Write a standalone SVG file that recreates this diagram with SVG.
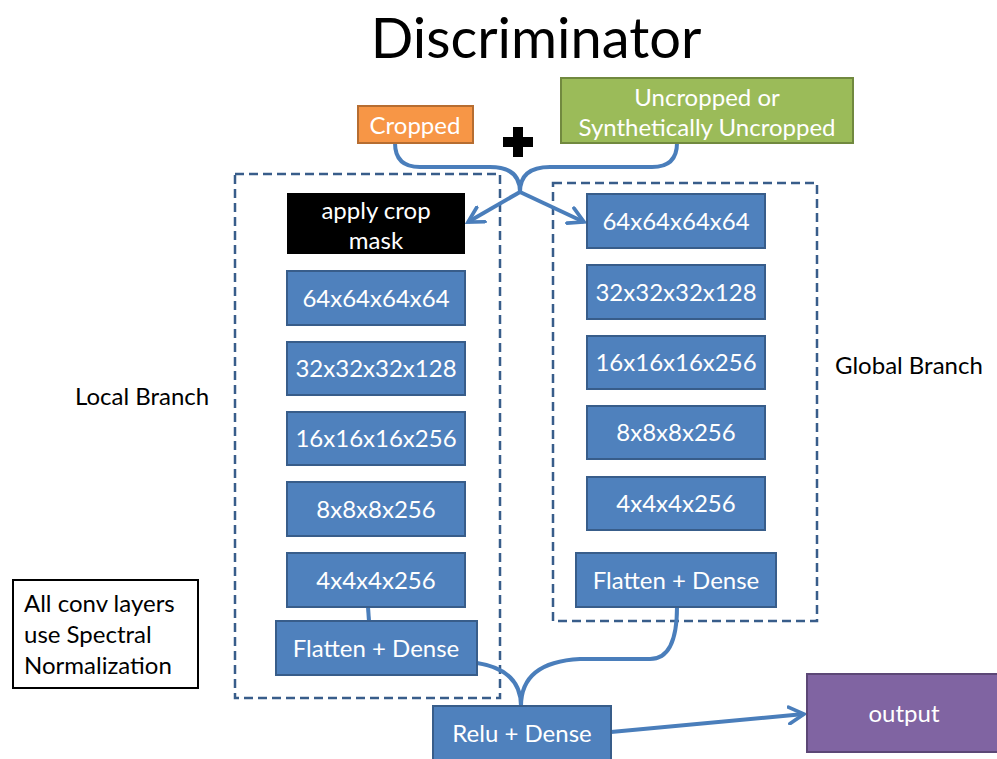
<svg xmlns="http://www.w3.org/2000/svg" width="997" height="759" viewBox="0 0 997 759">
<style>
text{font-family:Lato,"Open Sans","Liberation Sans",sans-serif;dominant-baseline:central;}
.t{font-size:24px;fill:#fff;text-anchor:middle;}
.k{font-size:24px;fill:#000;}
.blue{fill:#4F81BD;stroke:#385D8A;stroke-width:2;}
.dash{fill:none;stroke:#385D8A;stroke-width:2.5;stroke-dasharray:9,5;}
.c{fill:none;stroke:#4A7EBB;stroke-width:4;}
</style>
<defs>
<marker id="ah" viewBox="0 0 12 12" refX="10" refY="6" markerWidth="5" markerHeight="5" orient="auto" markerUnits="strokeWidth">
<path d="M1,1 L10,6 L1,11" fill="none" stroke="#4A7EBB" stroke-width="2.2" stroke-linecap="round"/>
</marker>
</defs>
<rect width="997" height="759" fill="#fff"/>
<text x="536" y="58" style="font-size:56px;text-anchor:middle;fill:#000;dominant-baseline:alphabetic">Discriminator</text>
<g id="frames">
<rect class="dash" x="235" y="174" width="265" height="524"/>
<rect class="dash" x="553" y="183" width="264" height="438"/>
</g>
<g id="connectors">
<path class="c" d="M395,143 Q395,167 420,167 L490,167 Q520,167 520,192"/>
<path class="c" d="M677,143 Q677,167 652,167 L550,167 Q520,167 520,192"/>
<path class="c" d="M520,192 L468,222" marker-end="url(#ah)"/>
<path class="c" d="M520,192 L584,222" marker-end="url(#ah)"/>
<path class="c" d="M368,607 L369,621"/>
<path class="c" d="M477,663 Q521,670 521,706"/>
<path class="c" d="M677,607 Q677,659 650,659 L580,659 Q521,662 521,706"/>
<path class="c" d="M611,732 L804,714" marker-end="url(#ah)"/>
</g>
<g id="cropped"><rect x="358" y="106" width="115" height="37" fill="#F79646" stroke="#B66D31" stroke-width="2"/><text class="t" x="415" y="124">Cropped</text></g>
<g id="plus"><path d="M513,127 h10 v10 h10 v10 h-10 v10 h-10 v-10 h-10 v-10 h10 z" fill="#000"/></g>
<g id="uncropped"><rect x="561" y="78" width="292" height="65" fill="#9BBB59" stroke="#71893F" stroke-width="2"/><text class="t" x="707" y="96">Uncropped or</text><text class="t" x="707" y="126">Synthetically Uncropped</text></g>
<g id="mask"><rect x="287" y="193" width="178" height="61" fill="#000"/><text class="t" x="376" y="209">apply crop</text><text class="t" x="376" y="239">mask</text></g>
<g id="l1"><rect class="blue" x="287" y="271" width="178" height="54"/><text class="t" x="376" y="297">64x64x64x64</text></g>
<g id="l2"><rect class="blue" x="287" y="342" width="178" height="53"/><text class="t" x="376" y="367">32x32x32x128</text></g>
<g id="l3"><rect class="blue" x="287" y="412" width="178" height="53"/><text class="t" x="376" y="437">16x16x16x256</text></g>
<g id="l4"><rect class="blue" x="287" y="482" width="178" height="54"/><text class="t" x="376" y="508">8x8x8x256</text></g>
<g id="l5"><rect class="blue" x="287" y="553" width="178" height="54"/><text class="t" x="376" y="579">4x4x4x256</text></g>
<g id="l6"><rect class="blue" x="276" y="621" width="201" height="54"/><text class="t" x="376" y="647">Flatten + Dense</text></g>
<g id="g1"><rect class="blue" x="587" y="194" width="178" height="54"/><text class="t" x="676" y="220">64x64x64x64</text></g>
<g id="g2"><rect class="blue" x="587" y="265" width="178" height="54"/><text class="t" x="676" y="291">32x32x32x128</text></g>
<g id="g3"><rect class="blue" x="587" y="336" width="178" height="53"/><text class="t" x="676" y="361">16x16x16x256</text></g>
<g id="g4"><rect class="blue" x="587" y="406" width="178" height="53"/><text class="t" x="676" y="431">8x8x8x256</text></g>
<g id="g5"><rect class="blue" x="587" y="477" width="178" height="53"/><text class="t" x="676" y="502">4x4x4x256</text></g>
<g id="g6"><rect class="blue" x="576" y="553" width="200" height="54"/><text class="t" x="676" y="579">Flatten + Dense</text></g>
<g id="relu"><rect class="blue" x="433" y="706" width="178" height="55"/><text class="t" x="522" y="732">Relu + Dense</text></g>
<g id="output"><rect x="807" y="674" width="195" height="78" fill="#8064A2" stroke="#5C4776" stroke-width="2"/><text class="t" x="904" y="712">output</text></g>
<g id="local"><text class="k" x="75" y="395">Local Branch</text></g>
<g id="global"><text class="k" x="835" y="364">Global Branch</text></g>
<g id="note"><rect x="13" y="580" width="185" height="108" fill="#fff" stroke="#000" stroke-width="2"/><text class="k" x="24" y="602">All conv layers</text><text class="k" x="24" y="633">use Spectral</text><text class="k" x="24" y="664">Normalization</text></g>
</svg>
